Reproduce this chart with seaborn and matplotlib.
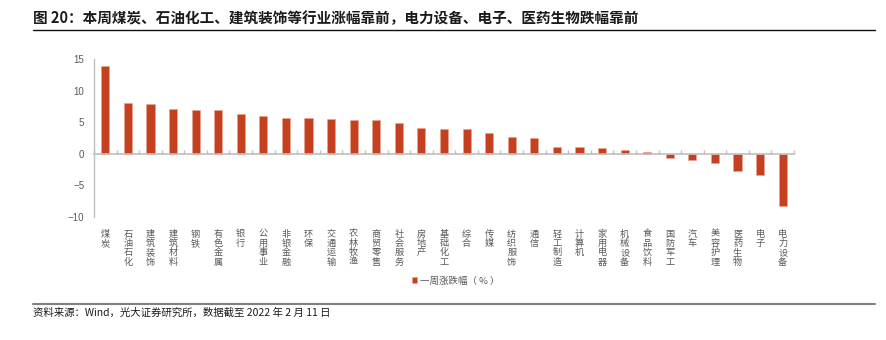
import matplotlib
matplotlib.use("Agg")
import matplotlib.pyplot as plt
from matplotlib.lines import Line2D
import seaborn as sns
import numpy as np
import pandas as pd

categories = ["煤炭", "石油石化", "建筑装饰", "建筑材料", "钢铁", "有色金属", "银行", "公用事业",
              "非银金融", "环保", "交通运输", "农林牧渔", "商贸零售", "社会服务", "房地产", "基础化工",
              "综合", "传媒", "纺织服饰", "通信", "轻工制造", "计算机", "家用电器", "机械设备",
              "食品饮料", "国防军工", "汽车", "美容护理", "医药生物", "电子", "电力设备"]
values = [13.9, 8.0, 7.85, 7.05, 6.95, 6.9, 6.25, 6.0,
          5.7, 5.65, 5.5, 5.3, 5.3, 4.95, 4.1, 4.0,
          3.85, 3.25, 2.7, 2.55, 1.1, 1.0, 0.9, 0.55,
          0.3, -0.6, -1.05, -1.45, -2.75, -3.35, -8.2]
series_name = "一周涨跌幅（ % ）"
yticks = [-10, -5, 0, 5, 10, 15]

title = "图 20：本周煤炭、石油化工、建筑装饰等行业涨幅靠前，电力设备、电子、医药生物跌幅靠前"
source = "资料来源：Wind，光大证券研究所，数据截至 2022 年 2 月 11 日"

sns.set_theme(style="white")
plt.rcParams["font.family"] = ["Noto Sans CJK SC", "DejaVu Sans"]

W, H = 886, 340
fig = plt.figure(figsize=(W / 100, H / 100), dpi=100)
ax = fig.add_axes([94 / W, 1 - 217 / H, (794 - 94) / W, (217 - 59) / H])

df = pd.DataFrame({"cat": categories, "val": values})
bar_color = "#C5401F"
sns.barplot(data=df, x="cat", y="val", color=bar_color, width=0.36, ax=ax,
            saturation=1, label=series_name, edgecolor="#E8A48F", linewidth=0.4)

n = len(categories)
ax.set_xlim(-0.5, n - 0.5)
ax.set_ylim(-10, 15)
ax.set_yticks(yticks)
ax.set_xlabel("")
ax.set_ylabel("")

grey_axis = "#BFBFBF"
label_col = "#595959"
ax.spines["right"].set_visible(False)
ax.spines["bottom"].set_visible(False)
ax.spines["left"].set_color(grey_axis)
ax.spines["left"].set_linewidth(1.0)
ax.spines["top"].set_position(("data", 0))
ax.spines["top"].set_color(grey_axis)
ax.spines["top"].set_linewidth(1.2)

ax.tick_params(axis="y", direction="in", length=2, color=grey_axis, labelcolor=label_col,
               labelsize=7, pad=7)
for t in ax.get_yticklabels():
    t.set_fontfamily(["Liberation Sans", "DejaVu Sans"])

ax.set_xticks(range(n))
ax.set_xticklabels(["\n".join(c) for c in categories], fontsize=6.6, color=label_col,
                   linespacing=1.05, va="top")
ax.tick_params(axis="x", which="major", bottom=True, top=False, length=0, pad=9)
ax.set_xticks(np.arange(-0.5, n, 1.0), minor=True)
ax.tick_params(axis="x", which="minor", bottom=False, top=True, direction="out",
               length=3, color=grey_axis, labeltop=False)

leg = ax.legend(loc="center", bbox_to_anchor=(456 / W, 1 - 281 / H), bbox_transform=fig.transFigure,
                frameon=False, fontsize=6.8, handlelength=0.55, handleheight=0.55,
                handletextpad=0.3, borderaxespad=0)
for t in leg.get_texts():
    t.set_color(label_col)

fig.text(33 / W, 1 - 18 / H, title, fontsize=10.5, fontweight="bold", color="#1a1a1a",
         ha="left", va="center")
fig.add_artist(Line2D([33 / W, 875 / W], [1 - 30 / H, 1 - 30 / H], color="#111111", linewidth=1.0))
fig.add_artist(Line2D([33 / W, 875 / W], [1 - 304 / H, 1 - 304 / H], color="#808080", linewidth=1.5))
fig.text(33 / W, 1 - 313 / H, source, fontsize=7.5, color="#1a1a1a", ha="left", va="center")

fig.savefig("out.png", dpi=100, facecolor="white")
